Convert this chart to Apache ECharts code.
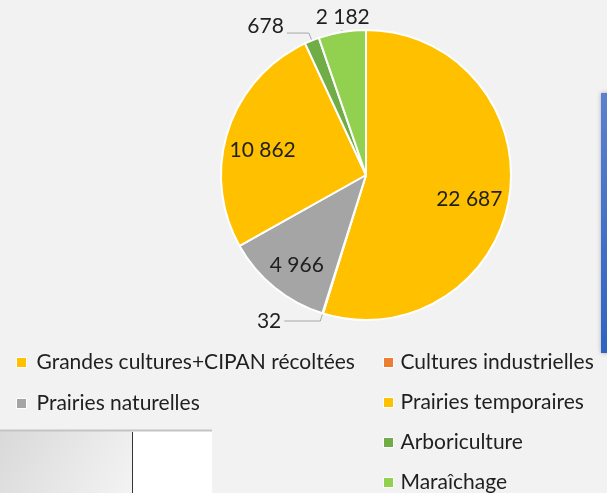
<!DOCTYPE html>
<html>
<head>
<meta charset="utf-8">
<script src="https://cdn.jsdelivr.net/npm/echarts@6/dist/echarts.min.js"></script>
<style>
  html, body { margin: 0; padding: 0; background: #f2f2f2; }
  #chart { width: 607px; height: 493px; }
</style>
</head>
<body>
<div id="chart"></div>
<script>
// surfaces par type de culture
const categories = [
  'Grandes cultures+CIPAN récoltées',
  'Cultures industrielles',
  'Prairies naturelles',
  'Prairies temporaires',
  'Arboriculture',
  'Maraîchage'
];
const values = [22687, 32, 4966, 10862, 678, 2182];
const colors = ['#FFC000', '#ED7D31', '#A5A5A5', '#FFC000', '#70AD47', '#92D050'];
const legendLeft = ['Grandes cultures+CIPAN récoltées', 'Prairies naturelles'];
const legendRight = ['Cultures industrielles', 'Prairies temporaires', 'Arboriculture', 'Maraîchage'];

const total = values.reduce((a, b) => a + b, 0);
const fmt = v => String(v).replace(/\B(?=(\d{3})+(?!\d))/g, ' ');
const FONT = 'Lato';

var myChart = echarts.init(document.getElementById('chart'), null, { renderer: 'canvas' });

// petites parts: étiquette à l'extérieur
const isSmall = v => v / total < 0.06;

const mainData = categories.map((name, i) => {
  const small = isSmall(values[i]);
  const item = {
    name: name,
    value: values[i],
    itemStyle: { color: colors[i] },
    label: { show: small },
    labelLine: { show: small }
  };
  if (name === 'Maraîchage') {
    item.label = { show: true, offset: [31, -13] };
    item.labelLine = { show: true, length: 2, length2: 0 };
  }
  if (name === 'Arboriculture') {
    item.labelLine = { show: true, length: 8, length2: 22 };
    item.label = { show: true, offset: [0, -7] };
  }
  return item;
});

const innerData = categories.map((name, i) => ({
  name: name,
  value: values[i],
  label: { show: !isSmall(values[i]) }
}));

const legendText = { fontFamily: FONT, fontSize: 21, color: '#1f1f1f', lineHeight: 20, padding: [0, 0, 0, 2] };

let option = {
  backgroundColor: '#f2f2f2',
  color: colors,
  animation: false,
  legend: [
    {
      data: legendLeft,
      orient: 'vertical',
      left: 16,
      top: 352,
      padding: 0,
      itemWidth: 10,
      itemHeight: 10,
      itemGap: 20,
      icon: 'rect',
      itemStyle: { borderColor: '#ffffff', borderWidth: 1 },
      textStyle: Object.assign({}, legendText, { padding: [0, 0, 0, 5] })
    },
    {
      data: legendRight,
      orient: 'vertical',
      left: 383,
      top: 352,
      padding: 0,
      itemWidth: 10,
      itemHeight: 10,
      itemGap: 19,
      icon: 'rect',
      itemStyle: { borderColor: '#ffffff', borderWidth: 1 },
      textStyle: legendText
    }
  ],
  graphic: [
    // bandeau bleu à droite
    {
      type: 'rect',
      shape: { x: 601, y: 93, width: 10, height: 260 },
      style: {
        fill: new echarts.graphic.LinearGradient(0, 0, 0, 1, [
          { offset: 0, color: '#5b80d0' },
          { offset: 1, color: '#2f63c2' }
        ]),
        shadowBlur: 4,
        shadowColor: 'rgba(0,0,0,0.3)'
      },
      z: -1
    },
    // tableau en bas à gauche
    {
      type: 'rect',
      shape: { x: 0, y: 431, width: 132, height: 70 },
      style: {
        fill: new echarts.graphic.LinearGradient(0, 0, 1, 1, [
          { offset: 0, color: '#d9d9d9' },
          { offset: 1, color: '#f4f4f4' }
        ])
      },
      z: -1
    },
    {
      type: 'rect',
      shape: { x: 133, y: 431, width: 79, height: 70 },
      style: { fill: '#ffffff' },
      z: -1
    },
    {
      type: 'line',
      shape: { x1: 0, y1: 430.5, x2: 212, y2: 430.5 },
      style: { stroke: '#c4c4c4', lineWidth: 2 },
      z: -1
    },
    {
      type: 'line',
      shape: { x1: 132.5, y1: 432, x2: 132.5, y2: 493 },
      style: { stroke: '#333333', lineWidth: 1 },
      z: -1
    }
  ],
  series: [
    {
      name: 'surfaces',
      type: 'pie',
      center: [366, 175],
      radius: 145,
      startAngle: 90,
      clockwise: true,
      avoidLabelOverlap: false,
      minShowLabelAngle: 0,
      itemStyle: { borderColor: '#ffffff', borderWidth: 2 },
      label: {
        position: 'outside',
        formatter: p => fmt(p.value),
        fontFamily: FONT,
        fontSize: 21,
        color: '#1f1f1f',
        distanceToLabelLine: 3
      },
      labelLine: {
        length: 8,
        length2: 36,
        smooth: false,
        lineStyle: { color: '#a6a6a6', width: 1 }
      },
      data: mainData
    },
    {
      name: 'etiquettes',
      type: 'pie',
      center: [366, 175],
      radius: [62, 145],
      startAngle: 90,
      clockwise: true,
      silent: true,
      avoidLabelOverlap: false,
      itemStyle: { color: 'rgba(0,0,0,0)', borderWidth: 0 },
      label: {
        position: 'inside',
        formatter: p => fmt(p.value),
        fontFamily: FONT,
        fontSize: 21,
        color: '#1f1f1f',
        offset: [-2, 8]
      },
      labelLine: { show: false },
      emphasis: { disabled: true },
      data: innerData
    }
  ]
};
myChart.setOption(option);
</script>
</body>
</html>
